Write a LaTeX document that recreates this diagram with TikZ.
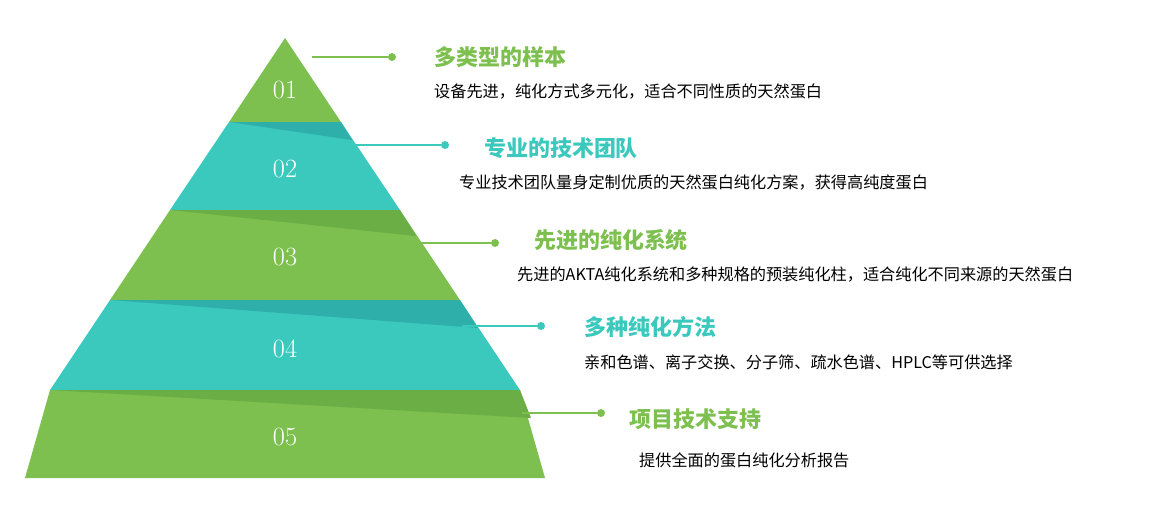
\documentclass[tikz,border=0pt]{standalone}
\usepackage{fontspec}
\newfontfamily\cjk{Noto Sans CJK SC}
\newfontfamily\cjkb{Noto Sans CJK SC Bold}
\definecolor{pgreen}{HTML}{7DC04F}
\definecolor{pteal}{HTML}{3BC9BE}
\definecolor{dgreen}{HTML}{6AAE45}
\definecolor{dteal}{HTML}{2FAFAA}
\tikzset{
  num/.style={text=white,font=\fontsize{15}{15}\selectfont},
  title/.style={anchor=west,font=\cjk\bfseries\fontsize{12.5}{14}\selectfont},
  sub/.style={anchor=west,font=\cjk\fontsize{9.2}{11}\selectfont},
  dotg/.style={circle,fill=pgreen,inner sep=1.6pt},
  dott/.style={circle,fill=pteal,inner sep=1.6pt}
}
\begin{document}
\begin{tikzpicture}[x=0.02cm,y=-0.02cm]
   \useasboundingbox (0,0) rectangle (1174,515);
   % bands
   \fill[pgreen] (285,38) -- (341,122) -- (229,122) -- cycle;
   \fill[pteal] (229,122) -- (341,122) -- (400,210) -- (170,210) -- cycle;
   \fill[dteal] (229,122) -- (341,122) -- (352,140) -- cycle;
   \fill[pgreen] (170,210) -- (400,210) -- (460,300) -- (110,300) -- cycle;
   \fill[dgreen] (170,210) -- (400,210) -- (416,236) -- cycle;
   \fill[pteal] (110,300) -- (460,300) -- (520,390) -- (50,390) -- cycle;
   \fill[dteal] (110,300) -- (460,300) -- (478,328) -- cycle;
   \fill[pgreen] (50,390) -- (520,390) -- (545,478) -- (25,478) -- cycle;
   \fill[dgreen] (50,390) -- (520,390) -- (531,418) -- cycle;
   % numbers
   \node[num] (n1) at (285,90) {01};
   \node[num] (n2) at (285,169) {02};
   \node[num] (n3) at (285,257) {03};
   \node[num] (n4) at (285,349) {04};
   \node[num] (n5) at (285,437) {05};
   % connectors
   \coordinate (s1) at (312,57);
   \coordinate (s2) at (348,145);
   \coordinate (s3) at (412,243);
   \coordinate (s4) at (462,326);
   \coordinate (s5) at (522,413);
   \node[dotg] (d1) at (392,57) {};
   \node[dott] (d2) at (445,145) {};
   \node[dotg] (d3) at (495,243) {};
   \node[dott] (d4) at (541,326) {};
   \node[dotg] (d5) at (601,413) {};
   \draw[pgreen,line width=0.6pt] (s1) -- (d1);
   \draw[pteal,line width=0.6pt] (s2) -- (d2);
   \draw[pgreen,line width=0.6pt] (s3) -- (d3);
   \draw[pteal,line width=0.6pt] (s4) -- (d4);
   \draw[pgreen,line width=0.6pt] (s5) -- (d5);
   % texts
   \node[title,text=pgreen] (t1) at (428,57) {多类型的样本};
   \node[sub] (u1) at (428,92) {设备先进，纯化方式多元化，适合不同性质的天然蛋白};
   \node[title,text=pteal] (t2) at (478,148) {专业的技术团队};
   \node[sub] (u2) at (453,183) {专业技术团队量身定制优质的天然蛋白纯化方案，获得高纯度蛋白};
   \node[title,text=pgreen] (t3) at (528,240) {先进的纯化系统};
   \node[sub] (u3) at (511,275) {先进的AKTA纯化系统和多种规格的预装纯化柱，适合纯化不同来源的天然蛋白};
   \node[title,text=pteal] (t4) at (578,327) {多种纯化方法};
   \node[sub] (u4) at (578,362) {亲和色谱、离子交换、分子筛、疏水色谱、HPLC等可供选择};
   \node[title,text=pgreen] (t5) at (623,419) {项目技术支持};
   \node[sub] (u5) at (633,460) {提供全面的蛋白纯化分析报告};
\end{tikzpicture}
\end{document}
